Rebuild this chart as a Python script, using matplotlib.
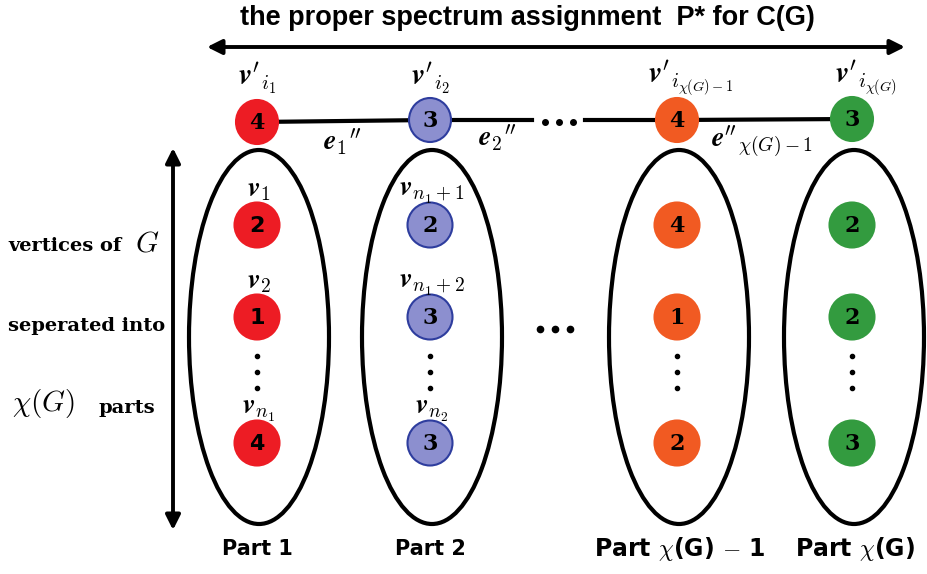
import matplotlib.pyplot as plt
from matplotlib.patches import Ellipse

plt.rcParams['mathtext.fontset'] = 'cm'

# datos del diagrama
top_values = [4, 3, 4, 3]
part_values = [[2, 1, 4], [2, 3, 3], [4, 1, 2], [2, 2, 3]]
fill_colors = ['#ed1c24', '#8c8fcf', '#f15a22', '#339b3f']
edge_colors = ['#ed1c24', '#2e3d9e', '#f15a22', '#339b3f']
top_labels = [r"$\boldsymbol{v}'_{i_1}$", r"$\boldsymbol{v}'_{i_2}$",
              r"$\boldsymbol{v}'_{i_{\chi(G)-1}}$", r"$\boldsymbol{v}'_{i_{\chi(G)}}$"]
vertex_labels = [[r"$\boldsymbol{v}_1$", r"$\boldsymbol{v}_2$", r"$\boldsymbol{v}_{n_1}$"],
                 [r"$\boldsymbol{v}_{n_1+1}$", r"$\boldsymbol{v}_{n_1+2}$", r"$\boldsymbol{v}_{n_2}$"],
                 [None, None, None], [None, None, None]]
edge_labels = [r"$\boldsymbol{e}_1{}''$", r"$\boldsymbol{e}_2{}''$", r"$\boldsymbol{e}''_{\chi(G)-1}$"]
part_names = ["Part 1", "Part 2", r"Part $\chi$(G) $-$ 1", r"Part $\chi$(G)"]

# posiciones (pixeles)
px = [257, 430, 677, 852]
top_y = [122, 120, 120, 119]
rows_y = [225, 317, 443]
dots_y = [356, 372, 388]
r = 22

fig = plt.figure(figsize=(9.28, 5.74), dpi=100)
ax = fig.add_axes([0, 0, 1, 1])
ax.set_xlim(0, 928)
ax.set_ylim(574, 0)
ax.axis('off')

# titulo y flecha horizontal
ax.text(527, 18, "the proper spectrum assignment  P* for C(G)", ha='center', va='center',
        fontsize=19.5, fontweight='bold', family='Liberation Sans')
ax.annotate('', xy=(905, 47), xytext=(207, 47),
            arrowprops=dict(arrowstyle='<|-|>', lw=2.8, color='k', mutation_scale=22,
                            shrinkA=0, shrinkB=0))

# flecha vertical
ax.annotate('', xy=(173, 148), xytext=(173, 530),
            arrowprops=dict(arrowstyle='<|-|>', lw=2.8, color='k', mutation_scale=22,
                            shrinkA=0, shrinkB=0))

# textos de la izquierda
ax.text(8, 246, "vertices of", ha='left', va='center', fontsize=14, fontweight='bold', family='DejaVu Serif')
ax.text(135, 243, r"$G$", ha='left', va='center', fontsize=21)
ax.text(8, 326, "seperated into", ha='left', va='center', fontsize=14, fontweight='bold', family='DejaVu Serif')
ax.text(12, 403, r"$\chi(G)$", ha='left', va='center', fontsize=21)
ax.text(99, 408, "parts", ha='left', va='center', fontsize=14, fontweight='bold', family='DejaVu Serif')

# linea superior
ax.plot([px[0], px[1]], [top_y[0], top_y[1]], color='k', lw=3, zorder=1)
ax.plot([px[1], 532], [top_y[1], 120], color='k', lw=3, zorder=1)
ax.plot([585, px[2]], [120, top_y[2]], color='k', lw=3, zorder=1)
ax.plot([px[2], px[3]], [top_y[2], top_y[3]], color='k', lw=3, zorder=1)
ax.plot([545, 559, 573], [122, 122, 122], 'ko', ms=4)

ax.text(342, 142, edge_labels[0], ha='center', va='center', fontsize=20)
ax.text(497, 138, edge_labels[1], ha='center', va='center', fontsize=20)
ax.text(762, 142, edge_labels[2], ha='center', va='center', fontsize=20)

for i in range(4):
    # nodo superior
    ax.add_patch(Ellipse((px[i], top_y[i]), 2 * r - 2, 2 * r, facecolor=fill_colors[i],
                         edgecolor=edge_colors[i], lw=1.5, zorder=2))
    ax.text(px[i], top_y[i] + 1, str(top_values[i]), ha='center', va='center', fontsize=16,
            fontweight='bold', family='DejaVu Serif', zorder=3)
    ax.text(px[i] + (14 if i >= 2 else 0), 78, top_labels[i], ha='center', va='center', fontsize=21)

    # elipse de la parte
    ax.add_patch(Ellipse((px[i] + 2, 337), 140, 374, facecolor='none', edgecolor='k', lw=3))

    for j in range(3):
        ax.add_patch(Ellipse((px[i], rows_y[j]), 2 * r + 1, 2 * r + 1, facecolor=fill_colors[i],
                             edgecolor=edge_colors[i], lw=1.5, zorder=2))
        fam = 'DejaVu Sans' if i == 0 else 'DejaVu Serif'
        ax.text(px[i], rows_y[j] + 1, str(part_values[i][j]), ha='center', va='center',
                fontsize=16, fontweight='bold', family=fam, zorder=3)
        if vertex_labels[i][j]:
            ax.text(px[i] + 2, rows_y[j] - 29, vertex_labels[i][j], ha='center', va='baseline', fontsize=20)

    ax.plot([px[i]] * 3, dots_y, 'ko', ms=3)
    fs = 15 if i < 2 else 17
    ax.text(px[i] + (0 if i < 2 else 3), 549, part_names[i], ha='center', va='center', fontsize=fs,
            fontweight='bold', family='DejaVu Sans')

# puntos entre partes
ax.plot([540, 555, 570], [329, 329, 329], 'ko', ms=4.5)

fig.savefig('out.png', dpi=100)
